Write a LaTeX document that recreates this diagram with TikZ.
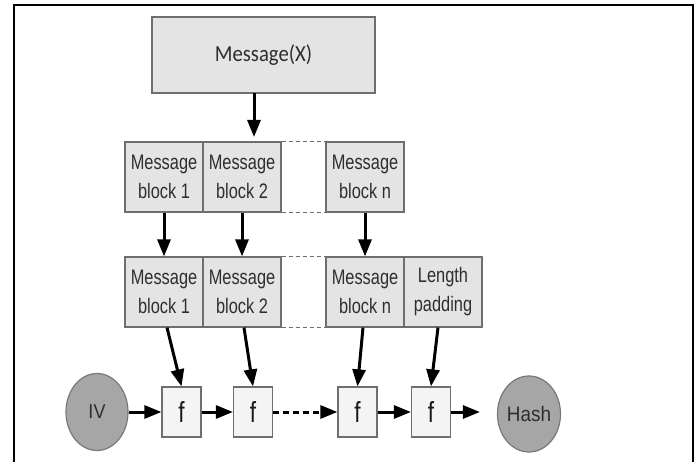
\documentclass[tikz,border=0pt]{standalone}
\usepackage{fontspec}
\setmainfont{Liberation Sans}[FakeStretch=0.78]
\newfontfamily\carl{Carlito}[FakeStretch=0.9]
\newfontfamily\wide{Liberation Sans}[FakeStretch=0.9]
\usetikzlibrary{arrows.meta,shapes.geometric}
\definecolor{boxfill}{HTML}{E4E4E4}
\definecolor{boxline}{HTML}{6E6E6E}
\definecolor{ffill}{HTML}{F4F4F4}
\definecolor{ellfill}{HTML}{A6A6A6}
\definecolor{ellline}{HTML}{787878}
\definecolor{txt}{HTML}{2E2E2E}
\begin{document}
\begin{tikzpicture}[x=1pt,y=-1pt,
  blk/.style={draw=boxline,fill=boxfill,line width=1.2pt,minimum width=78pt,minimum height=70pt,inner sep=0pt,align=center,font=\fontsize{21}{29}\selectfont,text=txt},
  fbox/.style={draw=boxline,fill=ffill,line width=1.2pt,minimum width=39pt,minimum height=50pt,inner sep=0pt,font=\fontsize{29}{30}\selectfont,text=black!90},
  ell/.style={ellipse,draw=ellline,fill=ellfill,line width=1.2pt,minimum width=62pt,minimum height=77pt,inner sep=0pt,text=txt},
  arr/.style={line width=3pt,-{Triangle[length=17pt,width=13pt]}},
  dsh/.style={boxline,line width=1.1pt,dash pattern=on 4pt off 3pt}
]
\useasboundingbox (0,0) rectangle (699,462);
\fill[white] (0,0) rectangle (699,462);
\draw[line width=2pt] (14,462) -- (14,5) -- (693,5) -- (693,462);

\node[draw=boxline,fill=boxfill,line width=1.2pt,minimum width=223pt,minimum height=76pt,inner sep=0pt,font=\carl\fontsize{23}{24}\selectfont,text=txt] (msg) at (263.5,55) {Message(X)};

\node[blk] (b1) at (164,177) {Message\\block 1};
\node[blk] (b2) at (242,177) {Message\\block 2};
\node[blk] (bn) at (365,177) {Message\\block n};

\node[blk] (c1) at (164,292) {Message\\block 1};
\node[blk] (c2) at (242,292) {Message\\block 2};
\node[blk] (cn) at (365,292) {Message\\block n};
\node[blk] (lp) at (443,292) {Length\\padding};

\draw[dsh] (b2.north east) -- (bn.north west);
\draw[dsh] (b2.south east) -- (bn.south west);
\draw[dsh] (c2.north east) -- (cn.north west);
\draw[dsh] (c2.south east) -- (cn.south west);

\node[fbox] (f1) at (181.5,412) {f};
\node[fbox] (f2) at (253,412) {f};
\node[fbox] (f3) at (357.5,412) {f};
\node[fbox] (f4) at (431,412) {f};

\node[ell,font=\wide\fontsize{20}{22}\selectfont] (iv) at (97,412) {IV};
\node[ell,minimum width=63pt,minimum height=76pt,font=\wide\fontsize{21}{24}\selectfont] (hash) at (529,414) {Hash};

\coordinate (mt) at (254,93);
\coordinate (mb) at (254,137);
\draw[arr] (mt) -- (mb);

\draw[arr] (b1.south) -- (c1.north);
\draw[arr] (b2.south) -- (c2.north);
\draw[arr] (bn.south) -- (cn.north);

\draw[arr] ([xshift=3pt]c1.south) -- (f1.north);
\draw[arr] ([xshift=2pt]c2.south) -- (f2.north);
\draw[arr] ([xshift=-2pt]cn.south) -- (f3.north);
\draw[arr] ([xshift=-5pt]lp.south) -- (f4.north);

\draw[arr] (iv.east) -- (f1.west);
\draw[arr] (f1.east) -- (f2.west);
\draw[arr,dash pattern=on 6pt off 4pt] (f2.east) -- (f3.west);
\draw[arr] (f3.east) -- (f4.west);
\draw[arr,shorten >=17pt] (f4.east) -- (f4.east -| hash.west);
\end{tikzpicture}
\end{document}
